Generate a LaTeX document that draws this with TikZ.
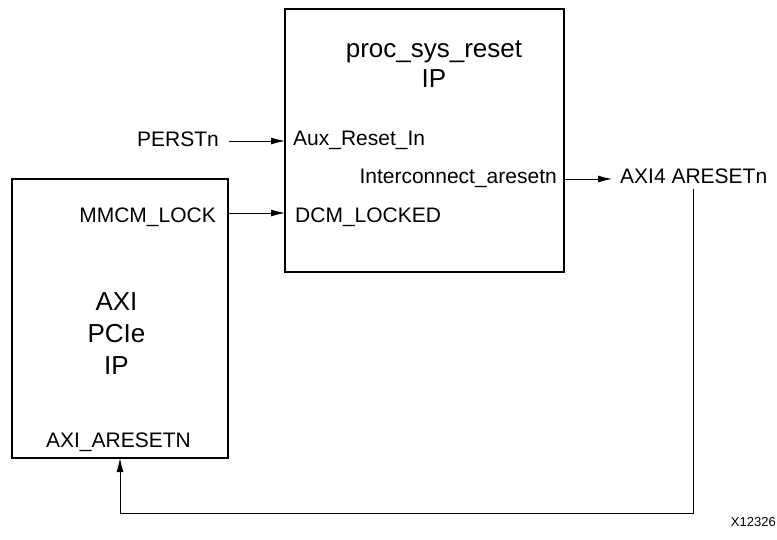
\documentclass[tikz,border=0pt]{standalone}
\usepackage{fontspec}
\setmainfont{Liberation Sans}
\usetikzlibrary{arrows.meta}
\begin{document}
\begin{tikzpicture}[x=1pt,y=-1pt,
  blk/.style={draw,line width=1.3pt},
  lbl/.style={inner sep=0pt,font=\fontsize{21}{24}\selectfont},
  big/.style={inner sep=0pt,align=center,anchor=south},
  conn/.style={line width=0.9pt,-{Latex[length=14pt,width=7pt]}},
  wire/.style={line width=0.9pt}]
\useasboundingbox (0,0) rectangle (777,540);
% boxes
\draw[blk] (285,9) rectangle (564,272);
\draw[blk] (12,179) rectangle (228,458);
\node[big,font=\fontsize{26}{30}\selectfont] (psr) at (434,88) {proc\_sys\_reset\\IP};
\node[big,font=\fontsize{26}{32}\selectfont] (pcie) at (116.5,375) {AXI\\PCIe\\IP};
% labels
\node[lbl,anchor=base east] (perst) at (219,147) {PERSTn};
\node[lbl,anchor=base west] (aux) at (293,146) {Aux\_Reset\_In};
\node[lbl,anchor=base east] (mmcm) at (216,223) {MMCM\_LOCK};
\node[lbl,anchor=base west] (dcm) at (295,223) {DCM\_LOCKED};
\node[lbl,anchor=base east] (ic) at (557,184) {Interconnect\_aresetn};
\node[lbl,anchor=base west] (axi4) at (620,184) {AXI4 ARESETn};
\node[lbl,anchor=base] (axiar) at (118.5,447) {AXI\_ARESETN};
\node[inner sep=0pt,font=\fontsize{13}{15}\selectfont,anchor=base east] (xid) at (776,526) {X12326};
% coordinates
\coordinate (perstE) at (229,141);
\coordinate (auxW) at (285,141);
\coordinate (mmcmE) at (229,213);
\coordinate (dcmW) at (285,213);
\coordinate (icE) at (564,179);
\coordinate (axi4W) at (612,179);
\coordinate (fbTop) at (693,189);
\coordinate (fbR) at (693,513);
\coordinate (fbL) at (120,513);
\coordinate (fbEnd) at (120,458);
% connectors
\draw[conn] (perstE) -- (auxW);
\draw[conn] (mmcmE) -- (dcmW);
\draw[conn] (icE) -- (axi4W);
\draw[conn] (fbTop) -- (fbR) -- (fbL) -- (fbEnd);
\end{tikzpicture}
\end{document}
